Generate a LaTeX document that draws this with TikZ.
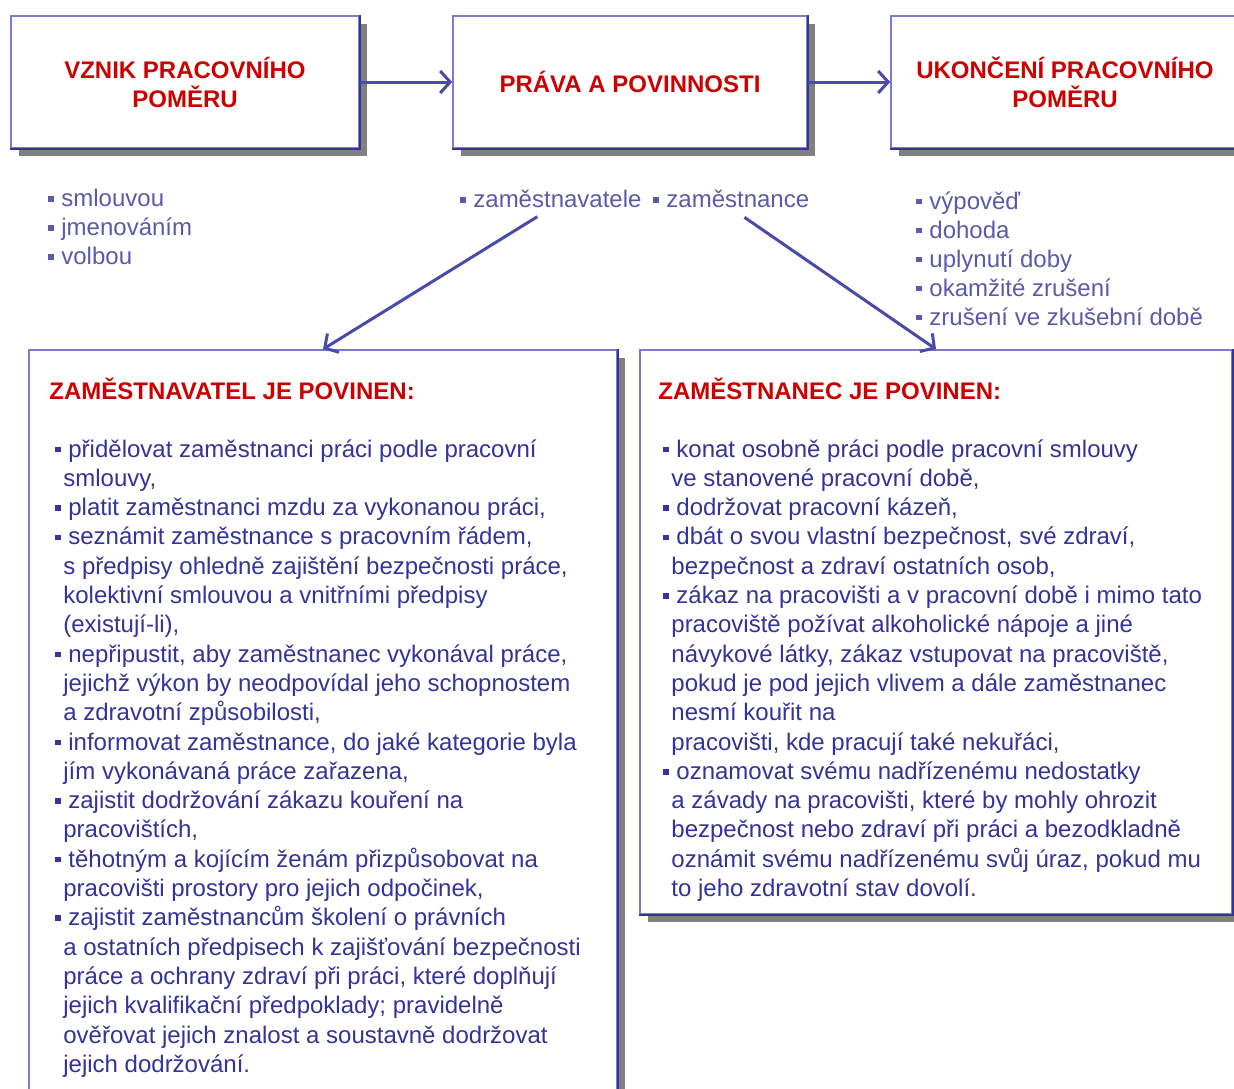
\documentclass[tikz,border=0pt]{standalone}
\usepackage{fontspec}
\setmainfont{Liberation Sans}
\usepackage{tikz}
\usetikzlibrary{arrows.meta,shadows}

\definecolor{modra}{HTML}{333399}
\definecolor{svetla}{HTML}{7B7BC8}
\definecolor{cervena}{HTML}{CC0000}
\definecolor{seda}{HTML}{808080}
\definecolor{sipkova}{HTML}{4A4AAA}
\definecolor{seznamova}{HTML}{5A5AAA}

\newcommand{\bod}{\rule[2.4pt]{2.8pt}{2.8pt}\hspace{3.7pt}}
\newcommand{\dal}{\hspace*{4pt}}

\tikzset{
    ramec/.style={draw=svetla, line width=0.8pt, fill=white, inner sep=0pt,
        drop shadow={shadow xshift=4pt, shadow yshift=-4pt, fill=seda, opacity=1}},
    hlavni/.style={ramec, minimum height=66pt, align=center, text=cervena,
        font=\fontsize{12pt}{14.5pt}\selectfont\bfseries},
    hrana/.style={draw=modra, line width=1.2pt},
    titul/.style={anchor=west, inner sep=0pt, text=cervena,
        font=\fontsize{12pt}{14.5pt}\selectfont\bfseries},
    telo/.style={anchor=north west, inner sep=0pt, align=left, text=modra,
        font=\fontsize{12pt}{14.65pt}\selectfont},
    seznam/.style={inner sep=0pt, align=left, text=seznamova,
        font=\fontsize{12pt}{14.5pt}\selectfont},
    sipka/.style={draw=sipkova, line width=1.5pt,
        -{Straight Barb[length=5pt,width=11pt]}}
}

\begin{document}
\begin{tikzpicture}[x=0.5pt,y=-0.5pt]
    \useasboundingbox (0,0) rectangle (1234,1088);

    \node[hlavni,minimum width=174pt] (vznik) at (185,82) {VZNIK PRACOVNÍHO\\POMĚRU};
    \node[hlavni,minimum width=177pt] (prava) at (630,82) {PRÁVA A POVINNOSTI};
    \node[hlavni,minimum width=174pt] (ukonceni) at (1065,82) {UKONČENÍ PRACOVNÍHO\\POMĚRU};

    \node[seznam,anchor=north west] (zpusoby) at (48,189)
        {\bod smlouvou\\\bod jmenováním\\\bod volbou};
    \node[seznam,anchor=west] (zl) at (460,199) {\bod zaměstnavatele};
    \node[seznam,anchor=west] (zc) at (653,199) {\bod zaměstnance};
    \node[seznam,anchor=north west] (konce) at (916,191)
        {\bod výpověď\\\bod dohoda\\\bod uplynutí doby\\\bod okamžité zrušení\\\bod zrušení ve zkušební době};

    \node[ramec,minimum width=294pt,minimum height=375pt] (zavatel) at (323,725) {};
    \node[ramec,minimum width=296pt,minimum height=282pt] (zanec) at (936,632) {};

    \foreach \b in {vznik,prava,ukonceni,zavatel,zanec}
        \draw[hrana] (\b.north east) -- (\b.south east) -- (\b.south west);

    \node[titul] (tzavatel) at (49,389) {ZAMĚSTNAVATEL JE POVINEN:};
    \node[titul] (tzanec) at (658,389) {ZAMĚSTNANEC JE POVINEN:};

    \node[telo] (pzavatel) at (55,439) {%
        \bod přidělovat zaměstnanci práci podle pracovní\\
        \dal smlouvy,\\
        \bod platit zaměstnanci mzdu za vykonanou práci,\\
        \bod seznámit zaměstnance s pracovním řádem,\\
        \dal s předpisy ohledně zajištění bezpečnosti práce,\\
        \dal kolektivní smlouvou a vnitřními předpisy\\
        \dal (existují-li),\\
        \bod nepřipustit, aby zaměstnanec vykonával práce,\\
        \dal jejichž výkon by neodpovídal jeho schopnostem\\
        \dal a zdravotní způsobilosti,\\
        \bod informovat zaměstnance, do jaké kategorie byla\\
        \dal jím vykonávaná práce zařazena,\\
        \bod zajistit dodržování zákazu kouření na\\
        \dal pracovištích,\\
        \bod těhotným a kojícím ženám přizpůsobovat na\\
        \dal pracovišti prostory pro jejich odpočinek,\\
        \bod zajistit zaměstnancům školení o právních\\
        \dal a ostatních předpisech k zajišťování bezpečnosti\\
        \dal práce a ochrany zdraví při práci, které doplňují\\
        \dal jejich kvalifikační předpoklady; pravidelně\\
        \dal ověřovat jejich znalost a soustavně dodržovat\\
        \dal jejich dodržování.};

    \node[telo] (pzanec) at (663,439) {%
        \bod konat osobně práci podle pracovní smlouvy\\
        \dal ve stanovené pracovní době,\\
        \bod dodržovat pracovní kázeň,\\
        \bod dbát o svou vlastní bezpečnost, své zdraví,\\
        \dal bezpečnost a zdraví ostatních osob,\\
        \bod zákaz na pracovišti a v pracovní době i mimo tato\\
        \dal pracoviště požívat alkoholické nápoje a jiné\\
        \dal návykové látky, zákaz vstupovat na pracoviště,\\
        \dal pokud je pod jejich vlivem a dále zaměstnanec\\
        \dal nesmí kouřit na\\
        \dal pracovišti, kde pracují také nekuřáci,\\
        \bod oznamovat svému nadřízenému nedostatky\\
        \dal a závady na pracovišti, které by mohly ohrozit\\
        \dal bezpečnost nebo zdraví při práci a bezodkladně\\
        \dal oznámit svému nadřízenému svůj úraz, pokud mu\\
        \dal to jeho zdravotní stav dovolí.};

    \draw[sipka] (vznik) -- (prava);
    \draw[sipka] (prava) -- (ukonceni);
    \draw[sipka, shorten <=8pt] (zl.south) -- (zavatel.north);
    \draw[sipka, shorten <=8pt] (zc.south) -- (zanec.north);
\end{tikzpicture}
\end{document}
